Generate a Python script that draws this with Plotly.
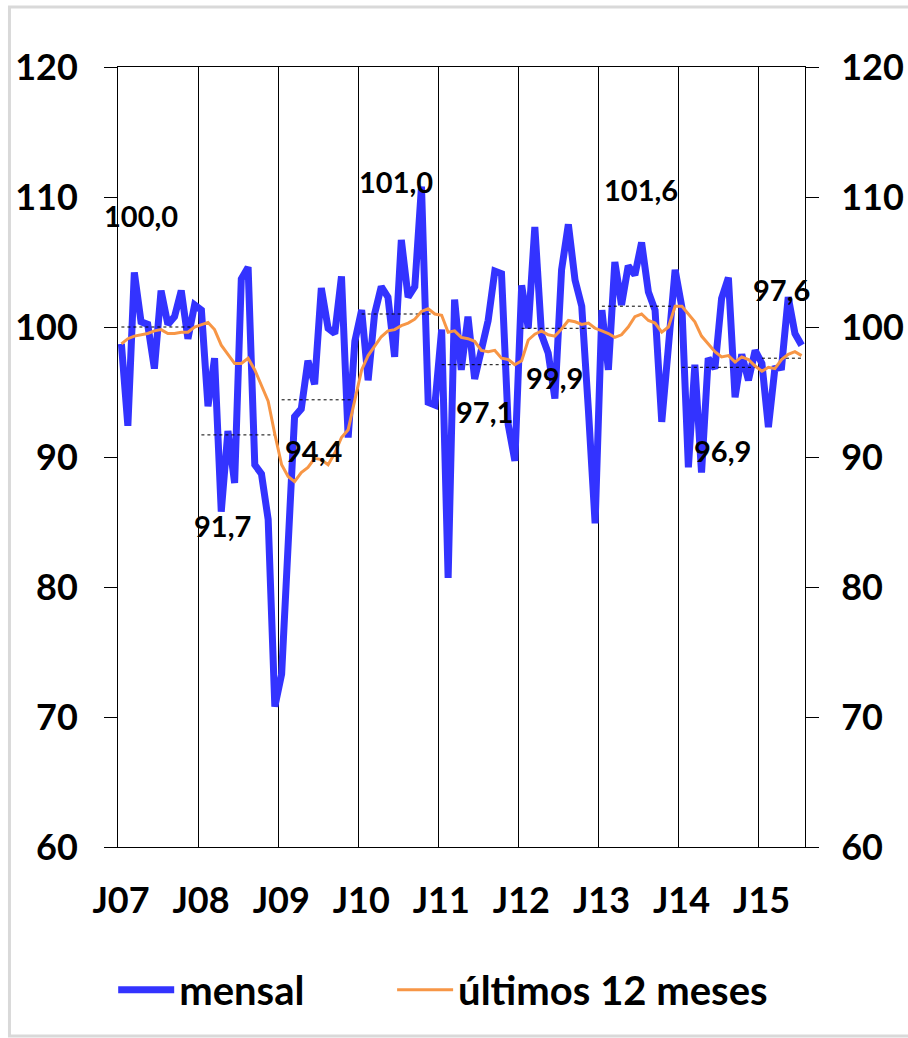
import pandas as pd
import plotly.graph_objects as go

# ---------------- data ----------------
months = pd.date_range("2007-01-01", "2015-07-01", freq="MS")

mensal = [
    98.7, 92.4, 104.2, 100.4, 100.2, 96.8, 102.8, 100.2, 100.8, 102.8, 99.1, 101.7,   # 2007
    101.3, 93.9, 97.6, 85.8, 92.0, 88.0, 103.7, 104.6, 89.4, 88.7, 85.2, 70.8,        # 2008
    73.3, 83.0, 93.1, 93.7, 97.4, 95.6, 103.0, 99.9, 99.5, 103.9, 91.5, 98.9,         # 2009
    101.3, 95.9, 101.0, 103.1, 102.3, 97.7, 106.7, 102.3, 103.1, 110.8, 94.2, 94.0,   # 2010
    99.8, 80.7, 102.1, 96.7, 100.8, 96.0, 98.0, 100.5, 104.3, 104.1, 92.5, 89.7,      # 2011
    103.2, 99.9, 107.7, 99.4, 98.0, 94.5, 104.4, 107.9, 103.6, 101.6, 93.6, 84.9,     # 2012
    101.3, 96.7, 105.0, 101.7, 104.7, 104.0, 106.5, 102.7, 101.3, 92.7, 98.5, 104.4,  # 2013
    101.5, 89.2, 97.1, 88.8, 97.6, 96.8, 102.2, 103.8, 94.6, 97.9, 95.9, 98.2,        # 2014
    97.2, 92.3, 96.8, 96.9, 102.3, 99.5, 98.6,                                        # 2015
]

ultimos12 = [
    98.7, 99.1, 99.3, 99.4, 99.5, 99.7, 99.8, 99.5, 99.5, 99.6, 99.6, 100.0,
    100.2, 100.35, 99.8, 98.6, 97.9, 97.2, 97.2, 97.6, 96.7, 95.5, 94.3, 91.75,
    89.4, 88.5, 88.1, 88.8, 89.2, 89.9, 89.8, 89.4, 90.3, 91.5, 92.1, 94.4,
    96.7, 97.8, 98.5, 99.25, 99.7, 99.8, 100.1, 100.3, 100.6, 101.2, 101.4, 101.0,
    100.9, 99.6, 99.7, 99.2, 99.1, 98.9, 98.2, 98.1, 98.2, 97.6, 97.5, 97.1,
    97.4, 99.0, 99.45, 99.7, 99.4, 99.3, 99.85, 100.5, 100.4, 100.2, 100.3, 99.9,
    99.7, 99.5, 99.2, 99.4, 100.0, 100.8, 101.0, 100.5, 100.3, 99.6, 100.0, 101.6,
    101.6, 101.0, 100.4, 99.3, 98.7, 98.1, 97.7, 97.8, 97.3, 97.7, 97.5, 97.0,
    96.6, 96.9, 96.8, 97.5, 97.9, 98.1, 97.8,
]

years = [2007, 2008, 2009, 2010, 2011, 2012, 2013, 2014, 2015]
year_avg = [100.0, 91.7, 94.4, 101.0, 97.1, 99.9, 101.6, 96.9, 97.6]
year_avg_text = ["100,0", "91,7", "94,4", "101,0", "97,1", "99,9", "101,6", "96,9", "97,6"]

# label placement (layout only): months from year start, offset in index points
LABEL_DX_MONTHS = [3.4, 3.7, 5.3, 5.6, 7.0, 5.4, 6.3, 6.6, 3.5]
LABEL_DY = [8.6, -7.0, -3.9, 10.2, -3.6, -3.75, 9.0, -6.4, 5.3]

# ---------------- styles ----------------
FONT = "Lato"
BLUE = "#3333FF"
ORANGE = "#F79646"

fig = go.Figure()

period = dict(xperiod="M1", xperiodalignment="middle")

fig.add_trace(go.Scatter(
    x=months, y=mensal, mode="lines", name="mensal", legend="legend",
    line=dict(color=BLUE, width=7), **period,
))

# annual averages (dotted)
for yr, avg in zip(years, year_avg):
    ym = [m for m in months if m.year == yr]
    fig.add_trace(go.Scatter(
        x=[ym[0], ym[-1]], y=[avg, avg], mode="lines", showlegend=False,
        line=dict(color="black", width=1, dash="dot"), hoverinfo="skip", **period,
    ))

fig.add_trace(go.Scatter(
    x=months, y=ultimos12, mode="lines", name="últimos 12 meses", legend="legend2",
    line=dict(color=ORANGE, width=3), yaxis="y2", **period,
))

annotations = []
for yr, avg, txt, dx, dy in zip(years, year_avg, year_avg_text, LABEL_DX_MONTHS, LABEL_DY):
    xpos = pd.Timestamp(yr, 1, 1) + pd.Timedelta(days=dx * 30.44)
    annotations.append(dict(
        x=xpos, y=avg + dy, xref="x", yref="y", text=txt, showarrow=False,
        font=dict(family=FONT, size=29, color="black", weight="bold"),
        xanchor="center", yanchor="middle",
    ))

tickfont = dict(family=FONT, size=36, color="black", weight="bold")
legfont = dict(family=FONT, size=40, color="black", weight="bold")

fig.update_layout(
    width=908, height=1038,
    margin=dict(l=118, r=103, t=67, b=191, autoexpand=False),
    paper_bgcolor="white", plot_bgcolor="white",
    showlegend=True,
    legend=dict(
        orientation="h", x=-0.007, y=-0.183, xanchor="left", yanchor="middle",
        font=legfont, itemwidth=56, bgcolor="rgba(0,0,0,0)",
    ),
    legend2=dict(
        orientation="h", x=0.399, y=-0.183, xanchor="left", yanchor="middle",
        font=legfont, itemwidth=56, bgcolor="rgba(0,0,0,0)",
    ),
    xaxis=dict(
        type="date", range=["2007-01-01", "2015-08-01"],
        tick0="2007-01-01", dtick="M12", tickformat="J%y",
        showgrid=True, gridcolor="black", gridwidth=1,
        ticks="", showline=True, linecolor="black", linewidth=1, mirror=True,
        tickfont=tickfont, ticklabelstandoff=22, ticklabelshift=3,
        zeroline=False, automargin=False,
    ),
    yaxis=dict(
        range=[60, 120], dtick=10, tick0=60,
        showgrid=False, zeroline=False,
        showline=True, linecolor="black", linewidth=1,
        ticks="outside", ticklen=13, tickcolor="black", tickwidth=1,
        tickfont=tickfont, ticklabelstandoff=19, automargin=False,
    ),
    yaxis2=dict(
        overlaying="y", side="right", matches="y",
        range=[60, 120], dtick=10, tick0=60,
        showgrid=False, zeroline=False,
        showline=True, linecolor="black", linewidth=1,
        ticks="outside", ticklen=13, tickcolor="black", tickwidth=1,
        tickfont=tickfont, ticklabelstandoff=15, automargin=False,
    ),
    annotations=annotations,
    shapes=[dict(
        type="rect", xref="paper", yref="paper",
        x0=-0.158, x1=1.17, y0=-0.2423, y1=1.0769,
        line=dict(color="#d9d9d9", width=3), fillcolor="rgba(0,0,0,0)", layer="below",
    )],
)

fig.write_html("out.html", config={"displayModeBar": False},
               post_script="document.body.style.margin='0px';")
